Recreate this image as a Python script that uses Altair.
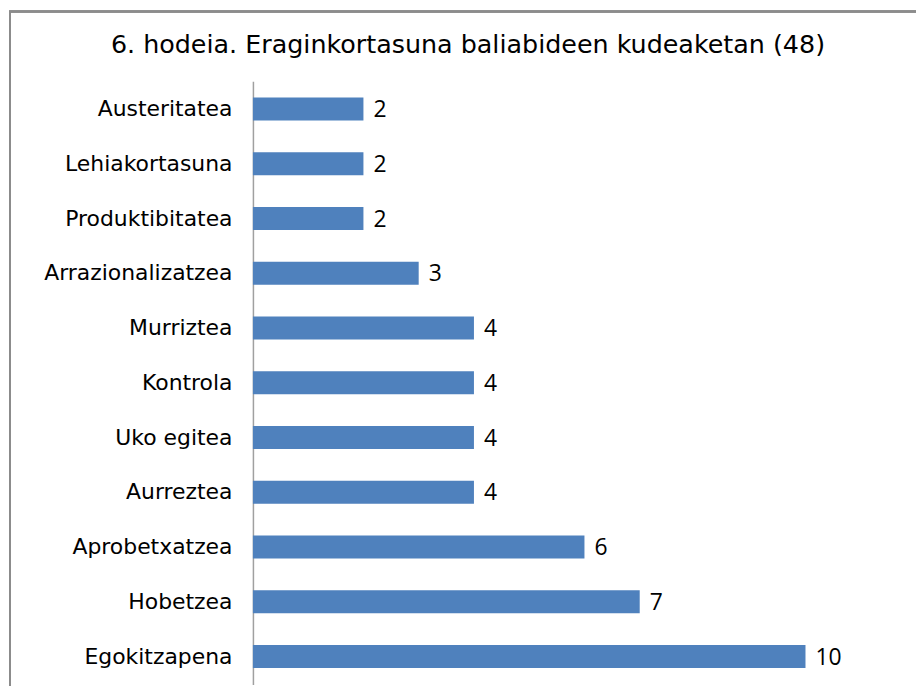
import altair as alt
import pandas as pd

categories = ["Austeritatea", "Lehiakortasuna", "Produktibitatea", "Arrazionalizatzea",
              "Murriztea", "Kontrola", "Uko egitea", "Aurreztea", "Aprobetxatzea",
              "Hobetzea", "Egokitzapena"]
values = [2, 2, 2, 3, 4, 4, 4, 4, 6, 7, 10]

df = pd.DataFrame({"cat": categories, "val": values})

W, H = 666, 606
ysc = alt.Y("cat:N", sort=categories, title=None,
            scale=alt.Scale(paddingInner=0.58, paddingOuter=0.3),
            axis=alt.Axis(labelFont="DejaVu Sans", labelFontSize=22, labelColor="#000000",
                          labelPadding=21, labelLimit=400, ticks=False, domainColor="#A0A0A0",
                          domainWidth=1.5, grid=False))
xsc = alt.X("val:Q", title=None, scale=alt.Scale(domain=[0, 12], nice=False), axis=None)

bars = alt.Chart(df).mark_bar(color="#4F81BD").encode(x=xsc, y=ysc)
labels = alt.Chart(df).mark_text(align="left", baseline="middle", dx=10, dy=1, font="Open Sans",
                                 fontSize=23, color="#000000").encode(
    x=xsc, y=ysc, text="val:Q")
frame = alt.Chart(df).mark_rect(fill=None, stroke="#8C8C8C", strokeWidth=1.5).encode(
    x=alt.value(-244), x2=alt.value(700), y=alt.value(-70), y2=alt.value(700))

chart = alt.layer(frame, bars, labels).properties(
    width=W, height=H,
    title=alt.TitleParams("6. hodeia. Eraginkortasuna baliabideen kudeaketan (48)",
                          font="DejaVu Sans", fontSize=25.5, fontWeight="normal",
                          color="#000000", anchor="middle", frame="group", offset=0, dy=48,
                          dx=-117),
    autosize=alt.AutoSizeParams(type="none"),
    padding={"left": 246, "top": 72, "right": 0, "bottom": 0},
).configure_view(stroke=None)

chart.save("out.html", embed_options={"renderer": "svg", "actions": False})
